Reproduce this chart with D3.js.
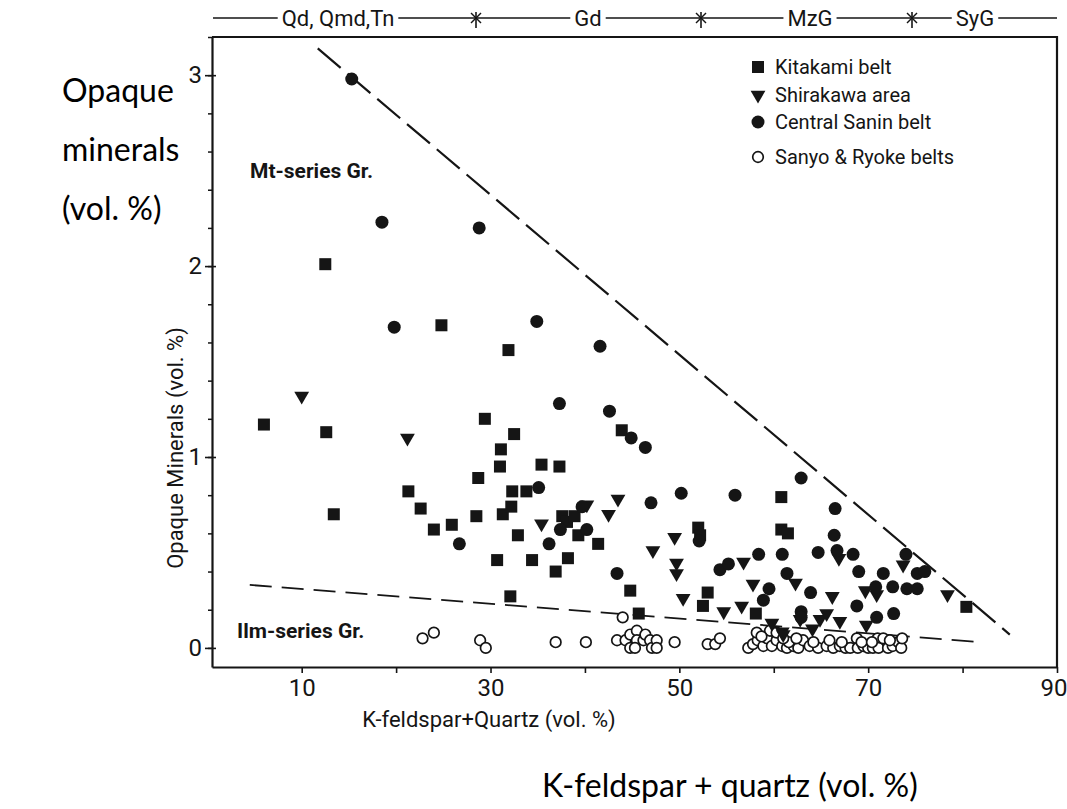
<!DOCTYPE html>
<html><head><meta charset="utf-8">
<script src="https://cdn.jsdelivr.net/npm/d3@7"></script>
<style>html,body{margin:0;padding:0;background:#fff;}svg{display:block;}</style>
</head><body>
<svg id="c" width="1067" height="809"></svg>
<script>
// ---- data ----
const kitakami = [[6.0,1.17],[12.5,2.01],[12.6,1.13],[13.4,0.70],[21.3,0.82],[22.6,0.73],[24.0,0.62],[24.8,1.69],[25.9,0.645],[28.5,0.69],[28.7,0.89],[29.4,1.20],[30.7,0.46],[31.1,1.04],[31.0,0.95],[31.3,0.70],[31.9,1.56],[32.1,0.27],[32.2,0.74],[32.5,1.12],[32.3,0.82],[33.8,0.82],[32.9,0.59],[34.4,0.46],[35.4,0.96],[37.3,0.95],[37.6,0.69],[38.1,0.66],[38.9,0.69],[39.3,0.59],[38.2,0.47],[36.9,0.40],[41.4,0.545],[43.9,1.14],[44.8,0.30],[45.7,0.18],[52.0,0.63],[52.2,0.59],[53.0,0.29],[52.5,0.22],[58.1,0.18],[60.8,0.79],[60.8,0.62],[61.5,0.60],[80.4,0.215]];
const shirakawa = [[10.0,1.32],[21.2,1.10],[35.4,0.65],[40.2,0.75],[43.5,0.78],[42.5,0.70],[49.5,0.58],[47.2,0.51],[49.7,0.445],[49.7,0.39],[50.4,0.26],[54.7,0.19],[56.6,0.22],[56.8,0.45],[57.8,0.335],[59.8,0.13],[60.9,0.085],[62.3,0.34],[62.8,0.15],[64.1,0.10],[64.9,0.15],[65.6,0.18],[67.0,0.14],[66.2,0.27],[66.9,0.47],[69.8,0.12],[69.7,0.30],[70.9,0.28],[73.7,0.435],[78.4,0.28],[61.0,0.07]];
const centralSanin = [[15.3,2.98],[18.5,2.23],[28.8,2.20],[19.8,1.68],[34.9,1.71],[41.6,1.58],[37.3,1.28],[42.6,1.24],[44.9,1.10],[46.4,1.05],[26.7,0.545],[35.1,0.84],[36.2,0.545],[37.4,0.62],[39.7,0.74],[40.2,0.62],[43.4,0.39],[47.0,0.76],[50.2,0.81],[55.9,0.80],[62.9,0.89],[66.5,0.73],[66.4,0.59],[52.1,0.56],[54.3,0.41],[55.2,0.44],[58.4,0.49],[60.9,0.49],[64.7,0.50],[66.7,0.51],[68.4,0.49],[61.4,0.39],[59.5,0.31],[58.9,0.25],[63.9,0.29],[62.9,0.19],[62.9,0.16],[68.8,0.22],[69.0,0.40],[71.6,0.39],[70.8,0.32],[72.6,0.32],[70.9,0.16],[72.7,0.18],[74.0,0.49],[75.2,0.39],[76.0,0.40],[74.1,0.31],[75.2,0.31]];
const sanyoRyoke = [[22.8,0.05],[24.0,0.08],[28.9,0.04],[29.5,0.0],[36.9,0.03],[40.1,0.03],[44.0,0.16],[43.4,0.04],[44.3,0.04],[44.8,0.07],[44.8,0.0],[45.5,0.09],[45.5,0.04],[46.2,0.04],[46.4,0.07],[45.3,0.0],[46.9,0.04],[47.1,0.0],[47.6,0.04],[47.6,0.0],[49.5,0.03],[53.0,0.02],[53.8,0.02],[54.3,0.05],
 [57.3,0.0],[57.8,0.02],[58.3,0.04],[58.9,0.01],[59.3,0.05],[59.8,0.01],[60.3,0.04],[60.9,0.01],[61.4,0.0],[62.1,0.01],[62.6,0.0],[63.1,0.04],[63.8,0.01],[64.7,0.0],[65.6,0.01],[66.3,0.0],[67.0,0.01],[67.6,0.0],[68.1,0.0],[68.8,0.05],[68.9,0.0],[69.5,0.01],[70.0,0.0],[70.5,0.0],[71.0,0.05],[71.1,0.0],[71.6,0.05],[72.1,0.0],[72.6,0.01],[73.2,0.03],[73.5,0.0],[58.2,0.08],[59.6,0.09],[60.3,0.08],[61.6,0.03],[62.4,0.05],[64.2,0.03],[65.9,0.04],[67.2,0.03],[69.3,0.03],[70.4,0.03],[72.3,0.04],[73.6,0.05],[58.7,0.06],[61.0,0.05]];
const mtBoundary = [[11.7,3.14],[85.0,0.07]];
const ilmBoundary = [[4.5,0.33],[81.9,0.03]];
const xTicks = [10,20,30,40,50,60,70,80,90];
const xTickLabels = [10,30,50,70,90];
const yMajorTicks = [0,1,2,3];
const yMinorTicks = [0,0.2,0.4,0.6,0.8,1,1.2,1.4,1.6,1.8,2,2.2,2.4,2.6,2.8,3,3.2];
const seriesNames = ["Kitakami belt","Shirakawa area","Central Sanin belt","Sanyo & Ryoke belts"];
const rockTypes = ["Qd, Qmd,Tn","Gd","MzG","SyG"];

// ---- drawing ----
const svg = d3.select("#c");
const ink = "#151515";
const F = "Roboto, 'Liberation Sans', sans-serif";
const x = d3.scaleLinear().domain([0.5, 90]).range([212, 1057]);
const y = d3.scaleLinear().domain([-0.1, 3.2]).range([667, 37]);
const g = svg.append("g");

// frame
g.append("path").attr("d", `M${x(0.5)},${y(3.2)}H${x(90)}V${y(-0.1)}`).attr("fill","none").attr("stroke",ink).attr("stroke-width",2.2);

// x axis
const xa = g.append("g").attr("transform",`translate(0,${y(-0.1)})`)
  .call(d3.axisBottom(x).tickValues(xTicks).tickSize(6).tickSizeOuter(0).tickPadding(6)
    .tickFormat(d => xTickLabels.includes(d) ? d : ""));
xa.select(".domain").attr("stroke",ink).attr("stroke-width",2.2);
xa.selectAll(".tick line").attr("stroke",ink).attr("stroke-width",1.6);
xa.selectAll("text").attr("font-family",F).attr("font-size",24).attr("fill",ink);
xa.selectAll(".tick").filter(d => d === 90).select("text").attr("text-anchor","end").attr("dx","10");

// y axis
const ya = g.append("g").attr("transform",`translate(${x(0.5)},0)`)
  .call(d3.axisLeft(y).tickValues(yMinorTicks).tickSize(4).tickSizeOuter(0).tickFormat(""));
ya.select(".domain").attr("stroke",ink).attr("stroke-width",2.2);
ya.selectAll(".tick line").attr("stroke",ink).attr("stroke-width",1.5);
const ym = g.append("g").attr("transform",`translate(${x(0.5)},0)`)
  .call(d3.axisLeft(y).tickValues(yMajorTicks).tickSize(7).tickSizeOuter(0).tickPadding(3).tickFormat(d3.format("d")));
ym.select(".domain").remove();
ym.selectAll(".tick line").attr("stroke",ink).attr("stroke-width",1.6).attr("x2",4).attr("x1",-7);
ym.selectAll("text").attr("font-family",F).attr("font-size",24).attr("fill",ink);

// axis titles
g.append("text").attr("x",489).attr("y",727).attr("text-anchor","middle")
  .attr("font-family",F).attr("font-size",22).attr("fill",ink).text("K-feldspar+Quartz (vol. %)");
g.append("text").attr("transform","translate(183,448) rotate(-90)").attr("text-anchor","middle")
  .attr("font-family",F).attr("font-size",22).attr("fill",ink).text("Opaque Minerals (vol. %)");

// top band
const bandY = 18;
g.append("line").attr("x1",213).attr("x2",1057).attr("y1",bandY).attr("y2",bandY).attr("stroke",ink).attr("stroke-width",1.6);
const bandPos = [338, 588, 810, 975];
rockTypes.forEach((t,i)=>{
  const bg = g.append("g");
  const tx = bg.append("text").attr("x",bandPos[i]).attr("y",bandY+8).attr("text-anchor","middle")
    .attr("font-family",F).attr("font-size",22).attr("fill",ink).text(t);
  const bb = tx.node().getBBox();
  bg.insert("rect","text").attr("x",bb.x-4).attr("y",bandY-3).attr("width",bb.width+8).attr("height",6).attr("fill","#fff");
});
[476, 701, 912].forEach(sx=>{
  g.append("line").attr("x1",sx).attr("x2",sx).attr("y1",bandY-6).attr("y2",bandY+10).attr("stroke",ink).attr("stroke-width",1.6);
  g.append("line").attr("x1",sx-5).attr("x2",sx+5).attr("y1",bandY-5).attr("y2",bandY+5).attr("stroke",ink).attr("stroke-width",1.4);
  g.append("line").attr("x1",sx+5).attr("x2",sx-5).attr("y1",bandY-5).attr("y2",bandY+5).attr("stroke",ink).attr("stroke-width",1.4);
});

// boundary lines
const line = d3.line().x(d=>x(d[0])).y(d=>y(d[1]));
g.append("path").attr("d",line(mtBoundary)).attr("fill","none").attr("stroke",ink).attr("stroke-width",2.2).attr("stroke-dasharray","30,9");
g.append("path").attr("d",line(ilmBoundary)).attr("fill","none").attr("stroke",ink).attr("stroke-width",1.8).attr("stroke-dasharray","22,10");

// region labels
g.append("text").attr("x",250).attr("y",178).attr("font-family",F).attr("font-weight","bold").attr("font-size",21).attr("fill",ink).text("Mt-series Gr.");
g.append("text").attr("x",237).attr("y",638).attr("font-family",F).attr("font-weight","bold").attr("font-size",21).attr("fill",ink).text("Ilm-series Gr.");

// markers
const sq = 12, cr = 6.5, orr = 5.3;
const tri = d3.symbol().type(d3.symbolTriangle).size(95);
function drawSquare(sel){ sel.append("rect").attr("x",-sq/2).attr("y",-sq/2).attr("width",sq).attr("height",sq).attr("fill",ink); }
function drawTri(sel){ sel.append("path").attr("d",tri).attr("transform","rotate(180)").attr("fill",ink); }
function drawDot(sel){ sel.append("circle").attr("r",cr).attr("fill",ink); }
function drawOpen(sel){ sel.append("circle").attr("r",orr).attr("fill","#fff").attr("stroke",ink).attr("stroke-width",1.7); }

const pts = g.append("g");
pts.selectAll("g.o").data(sanyoRyoke).join("g").attr("class","o").attr("transform",d=>`translate(${x(d[0])},${y(d[1])})`).each(function(){drawOpen(d3.select(this));});
pts.selectAll("g.k").data(kitakami).join("g").attr("class","k").attr("transform",d=>`translate(${x(d[0])},${y(d[1])})`).each(function(){drawSquare(d3.select(this));});
pts.selectAll("g.s").data(shirakawa).join("g").attr("class","s").attr("transform",d=>`translate(${x(d[0])},${y(d[1])})`).each(function(){drawTri(d3.select(this));});
pts.selectAll("g.c").data(centralSanin).join("g").attr("class","c").attr("transform",d=>`translate(${x(d[0])},${y(d[1])})`).each(function(){drawDot(d3.select(this));});

// legend
const legY = [67, 95, 122, 157];
const drawers = [drawSquare, drawTri, drawDot, drawOpen];
seriesNames.forEach((n,i)=>{
  const lg = g.append("g").attr("transform",`translate(758,${legY[i]})`);
  drawers[i](lg);
  g.append("text").attr("x",775).attr("y",legY[i]+7).attr("font-family",F).attr("font-size",20).attr("fill",ink).text(n);
});

// overlay annotations
const OF = "Lato, 'Open Sans', sans-serif";
[["Opaque",102],["minerals",161],["(vol. %)",220]].forEach(([t,yy])=>{
  svg.append("text").attr("x",62).attr("y",yy).attr("font-family",OF).attr("font-size",32).attr("fill","#000").text(t);
});
svg.append("text").attr("x",542).attr("y",797).attr("font-family",OF).attr("font-size",32).attr("fill","#000").text("K-feldspar + quartz (vol. %)");
</script>
</body></html>
